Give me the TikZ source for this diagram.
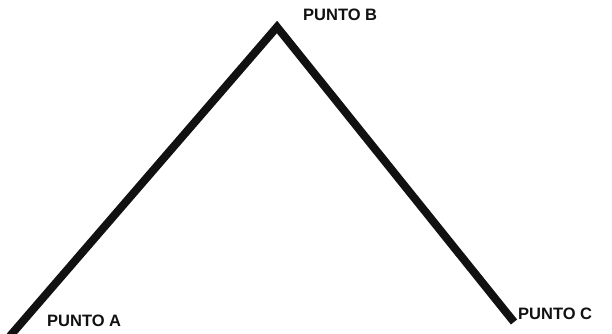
\documentclass[tikz,border=0pt]{standalone}
\usepackage{fontspec}
\setmainfont{Liberation Sans}
\usepackage{xcolor}
\usepackage{tikz}
\usetikzlibrary{positioning}
\definecolor{inkblack}{HTML}{111111}
\tikzstyle{puntolabel} = [inner sep=0pt, anchor=west, font=\fontsize{16.5}{16.5}\selectfont\bfseries, text=inkblack]
\tikzstyle{ridge} = [line width=8pt, draw=inkblack, line join=miter, line cap=butt]

\begin{document}
\begin{tikzpicture}[x=1pt, y=-1pt]
  \useasboundingbox (0,0) rectangle (612,333);
  \coordinate (ptA) at (10,336);
  \coordinate (ptB) at (277,27);
  \coordinate (ptC) at (514,322);

  \node (labA) [puntolabel] at (47,321) {PUNTO A};
  \node (labB) [puntolabel] at (303,15) {PUNTO B};
  \node (labC) [puntolabel] at (518,314) {PUNTO C};

  \draw[ridge] (ptA)--(ptB)--(ptC);
\end{tikzpicture}
\end{document}
